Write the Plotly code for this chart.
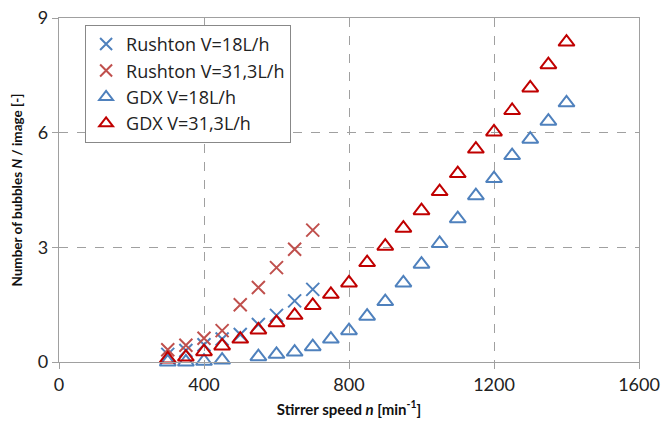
import plotly.graph_objects as go

rushton_n = [300, 350, 400, 450, 500, 550, 600, 650, 700]
rushton_18 = [0.2, 0.3, 0.45, 0.6, 0.72, 0.98, 1.22, 1.6, 1.9]
rushton_31 = [0.32, 0.44, 0.62, 0.82, 1.5, 1.95, 2.47, 2.95, 3.45]

gdx18_n = [300, 350, 400, 450, 550, 600, 650, 700, 750, 800, 850, 900, 950,
           1000, 1050, 1100, 1150, 1200, 1250, 1300, 1350, 1400]
gdx_18 = [0.0, 0.0, 0.02, 0.05, 0.14, 0.2, 0.26, 0.4, 0.6, 0.82, 1.2, 1.58, 2.07,
          2.56, 3.1, 3.75, 4.35, 4.8, 5.4, 5.83, 6.3, 6.78]

gdx31_n = [300, 350, 400, 450, 500, 550, 600, 650, 700, 750, 800, 850, 900, 950,
           1000, 1050, 1100, 1150, 1200, 1250, 1300, 1350, 1400]
gdx_31 = [0.08, 0.13, 0.27, 0.42, 0.6, 0.84, 1.03, 1.22, 1.48, 1.77, 2.07, 2.6, 3.03,
          3.5, 3.96, 4.46, 4.93, 5.57, 6.02, 6.58, 7.17, 7.78, 8.37]

x_ticks = [0, 400, 800, 1200, 1600]
y_ticks = [0, 3, 6, 9]

BLUE = "#4F81BD"
RED_X = "#C0504D"
RED_T = "#C00000"
FONT = "Lato"

fig = go.Figure()
fig.add_trace(go.Scatter(x=rushton_n, y=rushton_18, mode="markers", name="Rushton V=18L/h",
                         marker=dict(symbol="x-thin-open", size=13, line=dict(color=BLUE, width=2), color=BLUE),
                         cliponaxis=False))
fig.add_trace(go.Scatter(x=rushton_n, y=rushton_31, mode="markers", name="Rushton V=31,3L/h",
                         marker=dict(symbol="x-thin-open", size=13, line=dict(color=RED_X, width=2), color=RED_X),
                         cliponaxis=False))
fig.add_trace(go.Scatter(x=gdx18_n, y=gdx_18, mode="markers", name="GDX V=18L/h",
                         marker=dict(symbol="triangle-up-open", size=14, line=dict(color=BLUE, width=2), color=BLUE),
                         cliponaxis=False))
fig.add_trace(go.Scatter(x=gdx31_n, y=gdx_31, mode="markers", name="GDX V=31,3L/h",
                         marker=dict(symbol="triangle-up-open", size=14, line=dict(color=RED_T, width=2), color=RED_T),
                         cliponaxis=False))

axis_common = dict(
    showline=True, linecolor="#A0A0A0", linewidth=1.3, mirror=True,
    showgrid=True, gridcolor="#A0A0A0", griddash="dash", gridwidth=1.3,
    zeroline=False, ticks="outside", ticklen=6, tickcolor="#A0A0A0", tickwidth=1.3,
    tickfont=dict(family=FONT, size=18, color="#222"),
    automargin=False,
)

fig.update_xaxes(range=[0, 1600], tickvals=x_ticks, **axis_common,
                 title=dict(text="<b>Stirrer speed <i>n</i> [min<sup>-1</sup>]</b>",
                            font=dict(family=FONT, size=15, color="#111"), standoff=10))
fig.update_yaxes(range=[0, 9], tickvals=y_ticks, **axis_common,
                 title=dict(text="<b>Number of bubbles <i>N</i> / image [-]</b>",
                            font=dict(family=FONT, size=13.5, color="#111"), standoff=12))

fig.update_layout(
    width=664, height=426,
    margin=dict(l=59, r=25, t=18, b=64),
    paper_bgcolor="white", plot_bgcolor="white",
    showlegend=True,
    legend=dict(x=0.045, y=0.98, xanchor="left", yanchor="top",
                bgcolor="white", bordercolor="#888", borderwidth=1,
                font=dict(family="Open Sans", size=18, color="#222"),
                tracegroupgap=0, itemsizing="constant"),
)

fig.write_html("out.html", config={"displayModeBar": False})

with open("out.html", "r", encoding="utf-8") as f:
    html = f.read()
html = html.replace("<head>", "<head><style>html,body{margin:0;padding:0;overflow:hidden;}</style>", 1)
with open("out.html", "w", encoding="utf-8") as f:
    f.write(html)
